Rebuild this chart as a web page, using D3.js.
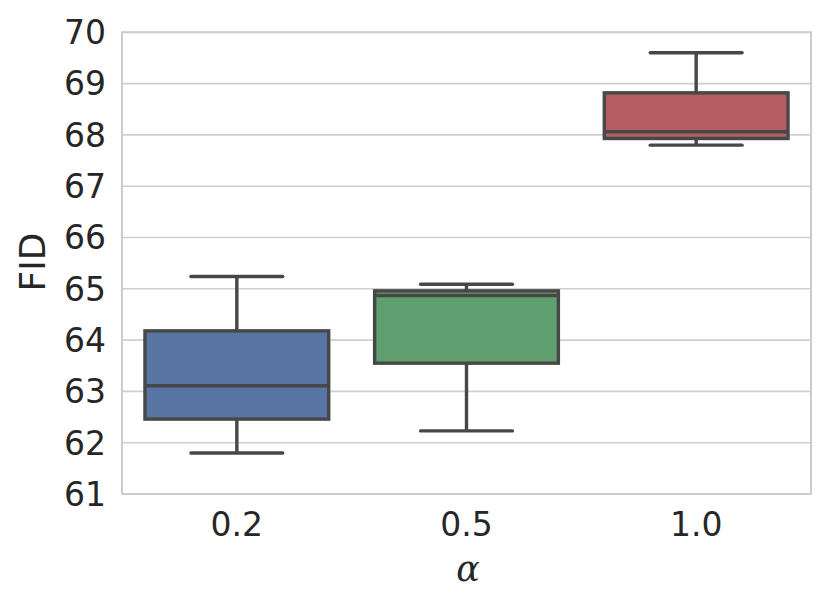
<!DOCTYPE html>
<html><head><meta charset="utf-8">
<script src="https://cdn.jsdelivr.net/npm/d3@7"></script>
<style>body{margin:0;background:#fff}svg{display:block}</style>
</head><body>
<svg id="c" width="830" height="606"></svg>
<script>
const categories = ["0.2", "0.5", "1.0"];
const whiskerLow = [61.80, 62.23, 67.80];
const q1 = [62.46, 63.55, 67.93];
const median = [63.11, 64.87, 68.06];
const q3 = [64.18, 64.96, 68.82];
const whiskerHigh = [65.24, 65.09, 69.60];
const colors = ["#5875a4", "#5f9e6e", "#b55d60"];
const yTicks = [61, 62, 63, 64, 65, 66, 67, 68, 69, 70];

const svg = d3.select("#c");
const L = 122, R = 811, T = 32.3, B = 494;
const x = d3.scaleBand().domain(categories).range([L, R]).padding(0);
const y = d3.scaleLinear().domain([61, 70]).range([B, T]);
const font = "DejaVu Sans";
const lc = "#474747";
const sw = 3.4;

// grid
svg.append("g").selectAll("line").data(yTicks).join("line")
  .attr("x1", L).attr("x2", R).attr("y1", d => y(d)).attr("y2", d => y(d))
  .attr("stroke", "#cfcfcf").attr("stroke-width", 1.6);

// frame
svg.append("rect").attr("x", L).attr("y", T).attr("width", R - L).attr("height", B - T)
  .attr("fill", "none").attr("stroke", "#cccccc").attr("stroke-width", 2);

// y tick labels
svg.append("g").selectAll("text").data(yTicks).join("text")
  .attr("x", 106).attr("y", d => y(d)).attr("dy", "0.36em")
  .attr("text-anchor", "end").attr("font-family", font).attr("font-size", 33)
  .attr("fill", "#262626").text(d => d);

// x tick labels
svg.append("g").selectAll("text").data(categories).join("text")
  .attr("x", d => x(d) + x.bandwidth() / 2).attr("y", 536)
  .attr("text-anchor", "middle").attr("font-family", font).attr("font-size", 33)
  .attr("fill", "#262626").text(d => d);

// axis labels
svg.append("text").attr("transform", "translate(45,262) rotate(-90)")
  .attr("text-anchor", "middle").attr("font-family", font).attr("font-size", 36)
  .attr("fill", "#262626").text("FID");
svg.append("text").attr("x", 468).attr("y", 581)
  .attr("text-anchor", "middle").attr("font-family", "DejaVu Serif").attr("font-style", "italic")
  .attr("font-size", 35).attr("fill", "#262626").text("α");

// boxes
const bw = x.bandwidth() * 0.8;
const g = svg.append("g");
categories.forEach((c, i) => {
  const cx = x(c) + x.bandwidth() / 2;
  const gg = g.append("g");
  gg.append("line").attr("x1", cx).attr("x2", cx).attr("y1", y(q3[i])).attr("y2", y(whiskerHigh[i]))
    .attr("stroke", lc).attr("stroke-width", sw);
  gg.append("line").attr("x1", cx).attr("x2", cx).attr("y1", y(q1[i])).attr("y2", y(whiskerLow[i]))
    .attr("stroke", lc).attr("stroke-width", sw);
  [whiskerHigh[i], whiskerLow[i]].forEach(v => {
    gg.append("line").attr("x1", cx - bw / 4).attr("x2", cx + bw / 4).attr("y1", y(v)).attr("y2", y(v))
      .attr("stroke", lc).attr("stroke-width", sw).attr("stroke-linecap", "round");
  });
  gg.append("rect").attr("x", cx - bw / 2).attr("width", bw)
    .attr("y", y(q3[i])).attr("height", y(q1[i]) - y(q3[i]))
    .attr("fill", colors[i]).attr("stroke", lc).attr("stroke-width", sw);
  gg.append("line").attr("x1", cx - bw / 2).attr("x2", cx + bw / 2).attr("y1", y(median[i])).attr("y2", y(median[i]))
    .attr("stroke", lc).attr("stroke-width", sw);
});
</script>
</body></html>
